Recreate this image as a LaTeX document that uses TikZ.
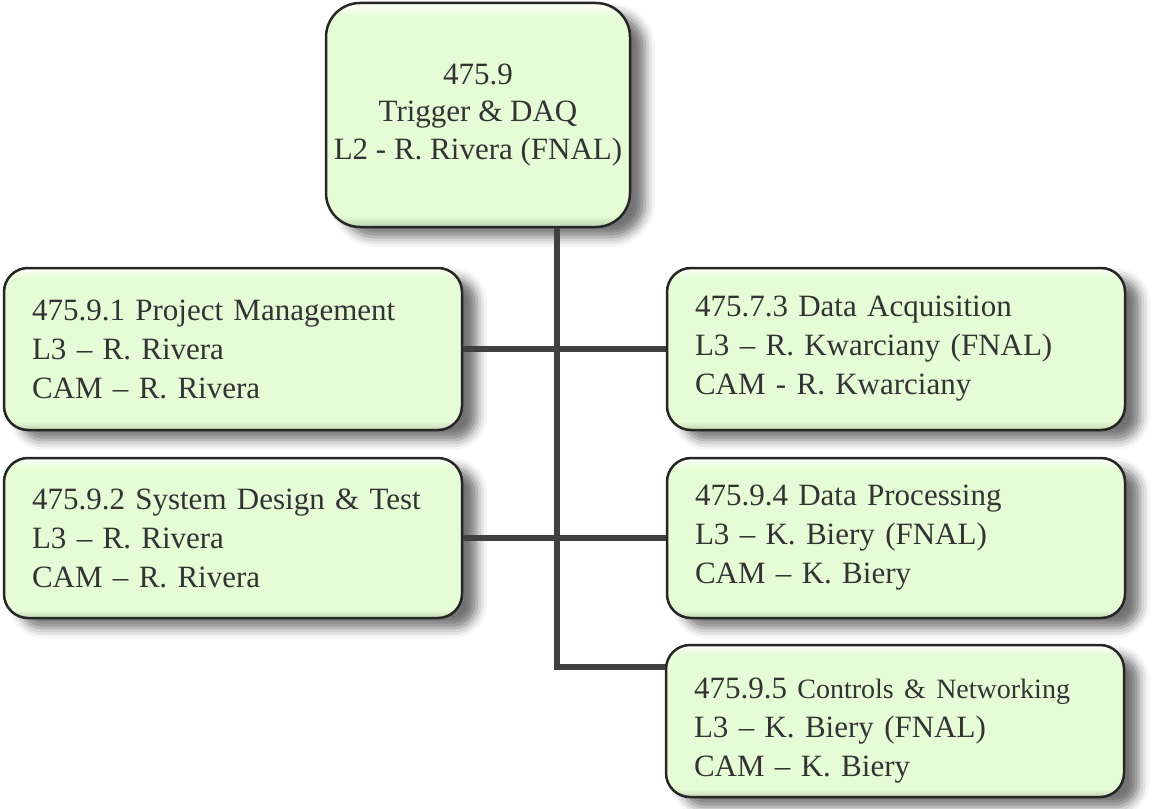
\documentclass[tikz,border=0pt]{standalone}
\usepackage{fontspec}
\setmainfont{Liberation Serif}
\usetikzlibrary{shadows.blur,calc}

\definecolor{boxgreen}{RGB}{229,252,214}
\definecolor{boxshade}{RGB}{190,210,176}
\definecolor{boxlight}{RGB}{252,255,249}
\definecolor{edgegray}{RGB}{38,38,38}
\definecolor{ink}{RGB}{51,51,51}
\definecolor{wiregray}{RGB}{64,64,64}

% soft bevel: darker rim at the bottom, bright rim at the top
\pgfdeclareverticalshading{bevel}{100bp}{color(0bp)=(boxshade); color(25bp)=(boxshade);
  color(27.5bp)=(boxgreen); color(72bp)=(boxgreen); color(74.5bp)=(boxlight); color(100bp)=(boxlight)}

\tikzset{
  wbs/.style={draw=edgegray, line width=2.5pt, rounded corners=24pt,
    shade, shading=bevel, text=ink,
    blur shadow={shadow xshift=15pt, shadow yshift=-10pt,
      shadow blur radius=10pt, shadow opacity=55}},
  leaf/.style={wbs, minimum height=162pt, text width=402pt, inner xsep=28pt,
    align=left, font=\fontsize{31}{39}\selectfont,
    execute at begin node={\hyphenpenalty=10000}},
  root/.style={wbs, rounded corners=34pt, minimum width=304pt, minimum height=224pt,
    align=center, font=\fontsize{31}{37.5}\selectfont},
  wire/.style={draw=wiregray, line width=6pt, line join=miter}
}

\begin{document}
\begin{tikzpicture}[x=1pt,y=-1pt]
\useasboundingbox (0,0) rectangle (1153,808);

\node[root] (daq) at (478,115) {475.9\\Trigger \& DAQ\\L2 - R. Rivera (FNAL)};

\node[leaf] (pm) at (233,349)
  {475.9.1 Project Management\\L3 – R. Rivera\\CAM – R. Rivera};
\node[leaf, minimum height=160pt] (sdt) at (233,538)
  {475.9.2 System Design \& Test\\L3 – R. Rivera\\CAM – R. Rivera};

\node[leaf] (acq) at (896,349)
  {475.7.3 Data Acquisition\\L3 – R. Kwarciany (FNAL)\\CAM - R. Kwarciany};
\node[leaf, minimum height=160pt] (proc) at (896,538)
  {475.9.4 Data Processing\\L3 – K. Biery (FNAL)\\CAM – K. Biery};
\node[leaf, minimum height=152pt] (ctrl) at (895,721)
  {\rule{0pt}{40pt}475.9.5 {\fontsize{28}{39}\selectfont Controls \& Networking}\\L3 – K. Biery (FNAL)\\CAM – K. Biery};

% trunk from the L2 box down to the last L3 box
\coordinate (trunk) at ([xshift=79pt]daq.south);
\coordinate (tap) at ([yshift=54pt]ctrl.west);
\draw[wire] (trunk) |- (tap);

% cross links between the paired L3 boxes
\draw[wire] (pm.east) -- (acq.west);
\draw[wire] (sdt.east) -- (proc.west);
\end{tikzpicture}
\end{document}
